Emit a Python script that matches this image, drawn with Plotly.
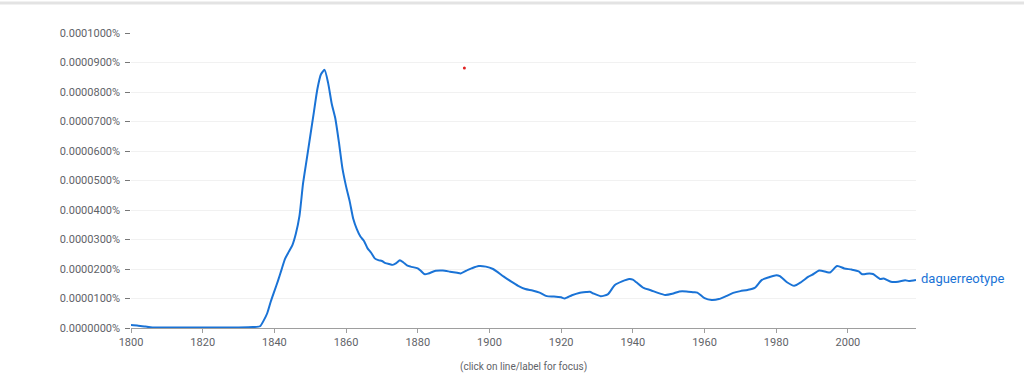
import plotly.graph_objects as go

years = [1800, 1802, 1804, 1806, 1810, 1815, 1820, 1825, 1830, 1834, 1836, 1837, 1838, 1839,
         1840, 1841, 1842, 1843, 1844, 1845, 1846, 1847, 1848, 1849, 1850, 1851, 1852, 1853,
         1854, 1855, 1856, 1857, 1858, 1859, 1860, 1861, 1862, 1863, 1864, 1865, 1866, 1867,
         1868, 1869, 1870, 1871, 1872, 1873, 1874, 1875, 1876, 1877, 1878, 1880, 1881, 1882,
         1883, 1885, 1887, 1889, 1891, 1892, 1894, 1895, 1897, 1899, 1901, 1902, 1904, 1906,
         1908, 1910, 1912, 1914, 1916, 1918, 1920, 1921, 1923, 1925, 1927, 1928, 1929, 1931,
         1933, 1935, 1937, 1939, 1940, 1941, 1943, 1945, 1947, 1949, 1951, 1953, 1955, 1957,
         1958, 1960, 1962, 1964, 1966, 1968, 1970, 1972, 1974, 1976, 1978, 1980, 1981, 1983,
         1985, 1987, 1989, 1990, 1992, 1994, 1995, 1997, 1999, 2001, 2003, 2004, 2006, 2007,
         2009, 2010, 2012, 2014, 2016, 2017, 2019]

# values in units of 0.00001 %
values_u = [0.10, 0.08, 0.05, 0.02, 0.02, 0.015, 0.015, 0.02, 0.02, 0.03, 0.06, 0.25, 0.50, 0.90,
            1.25, 1.60, 1.98, 2.35, 2.58, 2.80, 3.20, 3.80, 4.90, 5.70, 6.50, 7.30, 8.10, 8.60,
            8.75, 8.30, 7.60, 7.10, 6.30, 5.40, 4.80, 4.30, 3.70, 3.35, 3.10, 2.95, 2.70, 2.55,
            2.36, 2.30, 2.27, 2.20, 2.17, 2.14, 2.20, 2.30, 2.22, 2.12, 2.08, 2.02, 1.92, 1.82,
            1.85, 1.94, 1.95, 1.91, 1.87, 1.85, 1.97, 2.02, 2.10, 2.08, 2.00, 1.92, 1.74, 1.58,
            1.43, 1.32, 1.27, 1.20, 1.08, 1.07, 1.04, 1.00, 1.11, 1.19, 1.22, 1.23, 1.17, 1.08,
            1.14, 1.46, 1.58, 1.66, 1.64, 1.55, 1.36, 1.28, 1.19, 1.12, 1.16, 1.24, 1.24, 1.21,
            1.20, 1.01, 0.95, 0.98, 1.08, 1.19, 1.25, 1.29, 1.36, 1.63, 1.72, 1.79, 1.76, 1.55,
            1.43, 1.56, 1.74, 1.80, 1.95, 1.90, 1.88, 2.10, 2.02, 1.98, 1.92, 1.82, 1.85, 1.83,
            1.66, 1.68, 1.57, 1.57, 1.62, 1.59, 1.63]
values = [v * 0.00001 for v in values_u]

series_name = "daguerreotype"
x_ticks = [1800, 1820, 1840, 1860, 1880, 1900, 1920, 1940, 1960, 1980, 2000]
y_ticks = [i * 0.00001 for i in range(11)]
y_ticktext = ["%.7f%% " % v for v in y_ticks]

dot_x = [1893]
dot_y = [8.81 * 0.00001]

BLUE = "#1a73d6"
GRAY = "#5f6368"

fig = go.Figure()
fig.add_trace(go.Scatter(
    x=years, y=values, mode="lines", name=series_name,
    line=dict(color=BLUE, width=2, shape="spline", smoothing=0.6),
    hoverinfo="x+y", showlegend=False,
))
fig.add_trace(go.Scatter(
    x=dot_x, y=dot_y, mode="markers", marker=dict(color="#e02020", size=3),
    showlegend=False, hoverinfo="skip",
))

fig.update_layout(
    width=1024, height=392,
    margin=dict(l=131, r=108, t=33, b=64),
    paper_bgcolor="white", plot_bgcolor="white",
    font=dict(family="Roboto, Arial, sans-serif", size=11, color=GRAY),
    xaxis=dict(
        range=[1800, 2019], tickvals=x_ticks, ticks="outside", ticklen=4,
        tickcolor="#9e9e9e", showgrid=False, showline=True, linecolor="#9e9e9e",
        linewidth=1, zeroline=False, tickfont=dict(size=11, color=GRAY),
    ),
    yaxis=dict(
        range=[0, 0.0001], tickvals=y_ticks, ticktext=y_ticktext, ticks="outside",
        ticklen=5, tickcolor="#777777", showgrid=True, gridcolor="#f1f1f1",
        showline=False, zeroline=False, tickfont=dict(size=11, color=GRAY),
    ),
    annotations=[
        dict(x=1.004, xref="paper", y=values[-1], yref="y", yshift=1, text=series_name,
             showarrow=False, xanchor="left", yanchor="middle",
             font=dict(size=13, color=BLUE)),
        dict(x=0.5, xref="paper", y=-0.105, yref="paper",
             text="(click on line/label for focus)", showarrow=False,
             xanchor="center", yanchor="top", font=dict(size=10, color=GRAY)),
    ],
    shapes=[
        dict(type="line", xref="paper", yref="paper", x0=-0.2, x1=1.2,
             y0=1.1017, y1=1.1017, line=dict(color="#e3e3e3", width=3)),
    ],
)

fig.write_html("out.html", config={"displayModeBar": False},
               post_script="document.body.style.margin='0';")
